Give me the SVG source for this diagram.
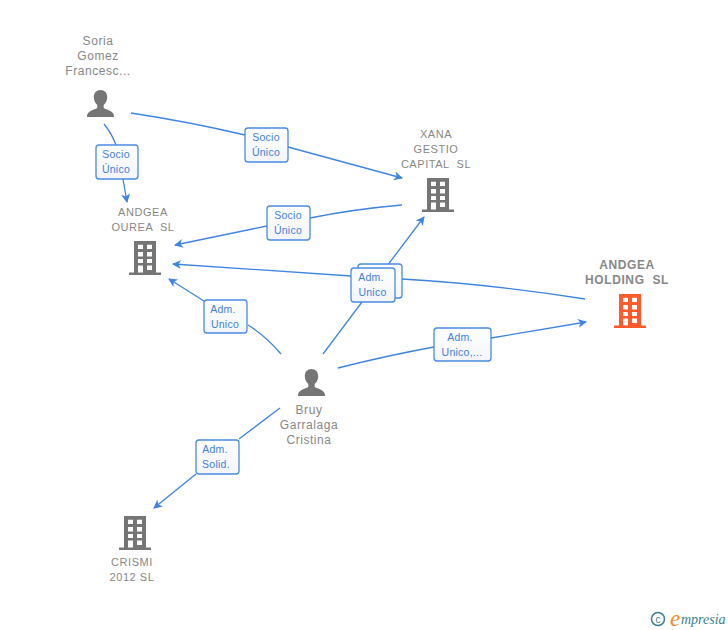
<svg xmlns="http://www.w3.org/2000/svg" width="728" height="630" viewBox="0 0 728 630">
<style>
text{font-family:"Liberation Sans",Arial,sans-serif;white-space:pre}
.n{font-size:12px;fill:#878787;text-anchor:middle;letter-spacing:.55px}
.u{font-size:11px;letter-spacing:.55px}
.b{font-size:12px;font-weight:700;letter-spacing:.6px}
.l{font-size:10.500px;fill:#3f7fdc;text-anchor:middle;letter-spacing:.25px}
.c{fill:none;stroke:#3f84e0;stroke-width:1.300}
.box{fill:url(#g);stroke:#4a8be2;stroke-width:1.300}
</style>
<defs>
<linearGradient id="g" x1="0" y1="0" x2="0" y2="1"><stop offset="0" stop-color="#fff"/><stop offset="1" stop-color="#f3f5f8"/></linearGradient>
<marker id="a" markerWidth="12" markerHeight="12" refX="8" refY="5" orient="auto" markerUnits="userSpaceOnUse"><path d="M0 .5L9 5L0 9.500L2.500 5Z" fill="#3f84e0"/></marker>
<path id="pp" d="M13.500 0c4.200 0 6.700 3.100 6.700 7.200c0 3.300-1.500 6.100-3.500 7.900v3c3 1.900 10.300 2.800 10.300 8.200V27H0v-.7c0-5.400 7.300-6.300 10.300-8.200v-3C8.300 13.300 6.800 10.500 6.800 7.200C6.800 3.100 9.300 0 13.500 0Z"/>
<path id="bd" fill-rule="evenodd" d="M5 0H27V31.500H32V34H0V31.500H5ZM9 3.700V8H14V3.700ZM18 3.700V8H23V3.700ZM9 11V15.500H14V11ZM18 11V15.500H23V11ZM9 18V22H14V18ZM18 18V22H23V18ZM9 24.500V31.500H14V24.500ZM18 24.500V29H23V24.500Z"/>
</defs>
<g id="connectors">
<path class="c" d="M104 124Q112 134 116 145"/>
<path class="c" d="M123 179L127 202" marker-end="url(#a)"/>
<path class="c" d="M131 113Q190 122 245 135"/>
<path class="c" d="M288 147L402 178" marker-end="url(#a)"/>
<path class="c" d="M402 205Q355 209 310 218"/>
<path class="c" d="M267 226L175 245" marker-end="url(#a)"/>
<path class="c" d="M585 299Q490 284 402 279"/>
<path class="c" d="M351 276L173 264" marker-end="url(#a)"/>
<path class="c" d="M281 354Q266 336 248 325"/>
<path class="c" d="M204 301L169 279" marker-end="url(#a)"/>
<path class="c" d="M323 354L362 302"/>
<path class="c" d="M387 266L424 217" marker-end="url(#a)"/>
<path class="c" d="M338 368Q385 356 434 347"/>
<path class="c" d="M491 338L586 322" marker-end="url(#a)"/>
<path class="c" d="M280 408L239 439"/>
<path class="c" d="M196 474L154 508" marker-end="url(#a)"/>
</g>
<g id="edge-labels">
<g id="lbl-soria-ourea"><rect class="box" x="96" y="145" width="42" height="34" rx="3"/><text class="l" x="116" y="158">Socio</text><text class="l" x="116" y="173">Único</text></g>
<g id="lbl-soria-xana"><rect class="box" x="245" y="128" width="43" height="34" rx="3"/><text class="l" x="266" y="141">Socio</text><text class="l" x="266" y="156">Único</text></g>
<g id="lbl-xana-ourea"><rect class="box" x="267" y="206" width="43" height="34" rx="3"/><text class="l" x="288" y="219">Socio</text><text class="l" x="288" y="234">Único</text></g>
<g id="lbl-bruy-ourea"><rect class="box" x="204" y="300" width="43" height="33" rx="3"/><text class="l" x="223" y="313">Adm.</text><text class="l" x="225" y="328">Unico</text></g>
<g id="lbl-double"><rect class="box" x="358" y="264" width="44" height="34" rx="3"/><rect class="box" x="351" y="268" width="44" height="34" rx="3"/><text class="l" x="371" y="281">Adm.</text><text class="l" x="372.500" y="296">Unico</text></g>
<g id="lbl-bruy-holding"><rect class="box" x="434" y="328" width="57" height="33" rx="3"/><text class="l" x="460" y="341">Adm.</text><text class="l" x="462" y="356">Unico,...</text></g>
<g id="lbl-bruy-crismi"><rect class="box" x="196" y="440" width="43" height="34" rx="3"/><text class="l" x="215" y="453">Adm.</text><text class="l" x="216" y="468">Solid.</text></g>
</g>
<g id="soria"><text class="n" x="98" y="45">Soria</text><text class="n" x="98" y="60">Gomez</text><text class="n" x="98" y="75">Francesc...</text><use href="#pp" x="87" y="90" fill="#757575"/></g>
<g id="ourea"><text class="n u" x="143" y="216">ANDGEA</text><text class="n u" x="143" y="231">OUREA  SL</text><use href="#bd" x="129" y="241" fill="#757575"/></g>
<g id="xana"><text class="n u" x="436" y="138">XANA</text><text class="n u" x="436" y="153">GESTIO</text><text class="n u" x="436" y="168">CAPITAL  SL</text><use href="#bd" x="422" y="178" fill="#757575"/></g>
<g id="holding"><text class="n b" x="627" y="269">ANDGEA</text><text class="n b" x="627" y="284">HOLDING  SL</text><use href="#bd" x="614" y="294" fill="#ff5a2b"/></g>
<g id="bruy"><use href="#pp" x="298" y="369" fill="#757575"/><text class="n" x="309" y="414">Bruy</text><text class="n" x="309" y="429">Garralaga</text><text class="n" x="309" y="444">Cristina</text></g>
<g id="crismi"><use href="#bd" x="119" y="516" fill="#757575"/><text class="n u" x="132" y="566">CRISMI</text><text class="n u" x="132" y="581">2012 SL</text></g>
<g id="logo"><circle cx="658" cy="619" r="6.500" fill="none" stroke="#3d7f8f" stroke-width="1.500"/><text x="658" y="622.500" font-size="10" fill="#3d7f8f" text-anchor="middle">c</text><text x="670" y="626" font-size="23" fill="#f28c1e" font-style="italic" style="font-family:'Liberation Serif',serif">e</text><text x="681" y="624" font-size="14" fill="#3d7f8f" font-style="italic" style="font-family:'Liberation Serif',serif">mpresia</text></g>
</svg>
